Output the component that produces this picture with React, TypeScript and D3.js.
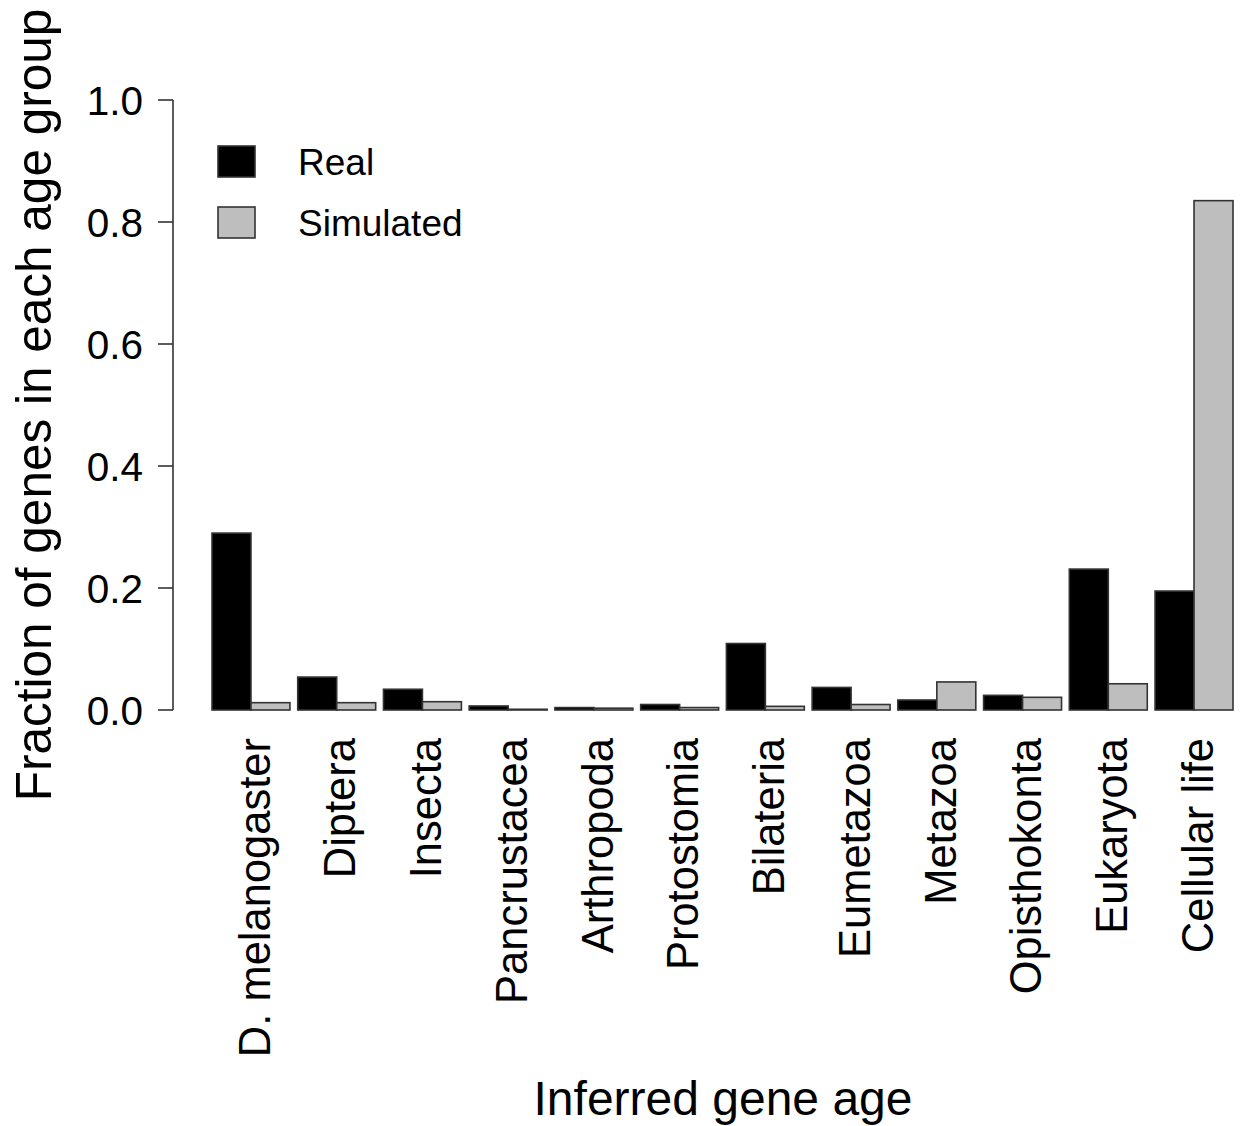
import React from "react";
import * as d3 from "d3";

const categories = [
  "D. melanogaster",
  "Diptera",
  "Insecta",
  "Pancrustacea",
  "Arthropoda",
  "Protostomia",
  "Bilateria",
  "Eumetazoa",
  "Metazoa",
  "Opisthokonta",
  "Eukaryota",
  "Cellular life",
];
const realValues = [0.29, 0.054, 0.034, 0.0066, 0.004, 0.009, 0.109, 0.037, 0.0164, 0.024, 0.231, 0.195];
const simulatedValues = [0.012, 0.012, 0.0136, 0.0012, 0.003, 0.004, 0.006, 0.009, 0.046, 0.0208, 0.043, 0.835];
const yTicks = [0, 0.2, 0.4, 0.6, 0.8, 1.0];
const seriesNames = ["Real", "Simulated"];
const seriesColors = ["#000000", "#bebebe"];

const W = 1243;
const H = 1126;
const FONT = "'Liberation Sans', Arial, sans-serif";

export default function App() {
  const y = d3.scaleLinear().domain([0, 1]).range([710, 100]);
  const x = d3
    .scaleBand<string>()
    .domain(categories)
    .range([212, 1233])
    .paddingInner(0.2 / 2.2)
    .paddingOuter(0);
  const inner = d3
    .scaleBand<string>()
    .domain(seriesNames)
    .range([0, x.bandwidth()]);
  const series = [realValues, simulatedValues];
  const axisX = 173;

  return (
    <div style={{ position: "absolute", left: 0, top: 0 }}>
      <svg width={W} height={H} style={{ display: "block", background: "#fff" }} fontFamily={FONT}>
        {/* bars */}
        {categories.map((c, i) => (
          <g key={c} transform={`translate(${x(c)},0)`}>
            {series.map((vals, s) => (
              <rect
                key={s}
                x={inner(seriesNames[s])}
                y={y(vals[i])}
                width={inner.bandwidth()}
                height={y(0) - y(vals[i])}
                fill={seriesColors[s]}
                stroke="#333"
                strokeWidth={1.6}
              />
            ))}
          </g>
        ))}

        {/* y axis */}
        <line x1={axisX} x2={axisX} y1={y(0)} y2={y(1)} stroke="#333" strokeWidth={1.6} />
        {yTicks.map((t) => (
          <g key={t}>
            <line x1={axisX - 15} x2={axisX} y1={y(t)} y2={y(t)} stroke="#333" strokeWidth={1.6} />
            <text
              x={axisX - 30}
              y={y(t)}
              dy="0.36em"
              textAnchor="end"
              fontSize={40.5}
              fill="#000"
            >
              {t.toFixed(1)}
            </text>
          </g>
        ))}

        {/* category labels */}
        {categories.map((c) => {
          const cx = (x(c) as number) + x.bandwidth() / 2;
          return (
            <text
              key={c}
              transform={`translate(${cx + 3},738) rotate(-90)`}
              dy="0.36em"
              textAnchor="end"
              fontSize={43.5}
              fill="#000"
            >
              {c}
            </text>
          );
        })}

        {/* axis titles */}
        <text
          transform={`translate(51,${(y(0) + y(1)) / 2}) rotate(-90)`}
          textAnchor="middle"
          fontSize={49.5}
          fill="#000"
        >
          Fraction of genes in each age group
        </text>
        <text x={723} y={1115} textAnchor="middle" fontSize={48} fill="#000">
          Inferred gene age
        </text>

        {/* legend */}
        {seriesNames.map((n, s) => (
          <g key={n} transform={`translate(0,${s * 61})`}>
            <rect x={218} y={146} width={37} height={31} fill={seriesColors[s]} stroke="#333" strokeWidth={1.6} />
            <text x={298} y={162} dy="0.36em" fontSize={37} fill="#000">
              {n}
            </text>
          </g>
        ))}
      </svg>
    </div>
  );
}
